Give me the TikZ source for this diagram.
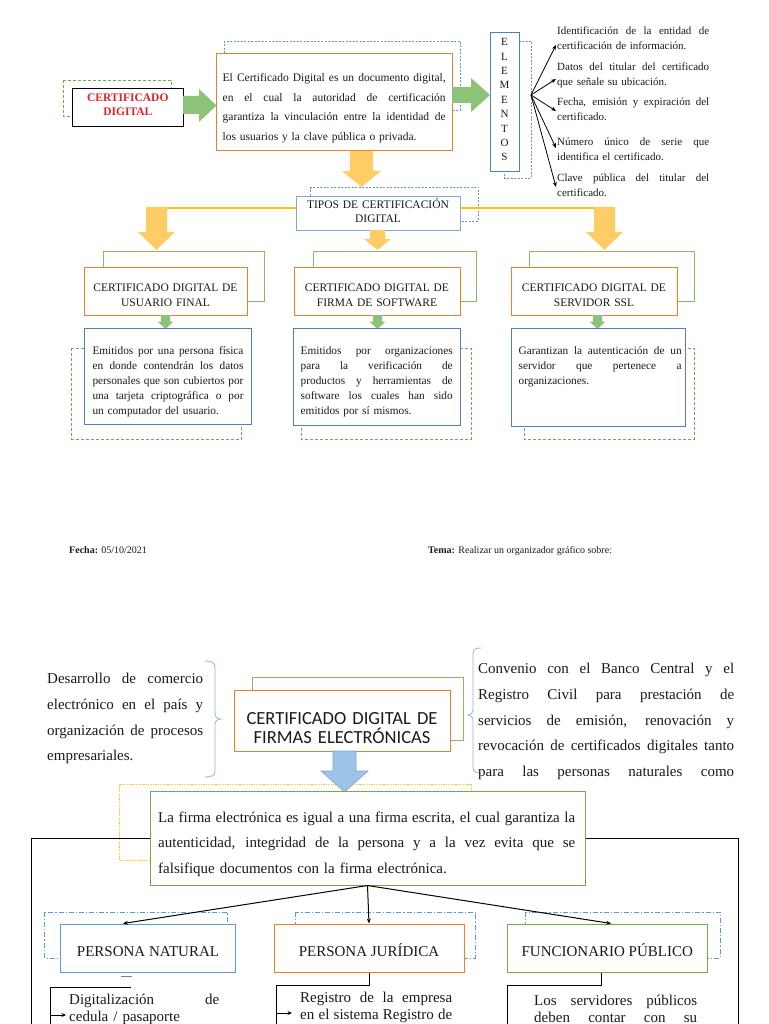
\documentclass[tikz,border=0pt]{standalone}
\usepackage{fontspec}
\setmainfont{Liberation Serif}
\newfontfamily\ttlsans{Carlito}
\usetikzlibrary{arrows.meta}
\definecolor{orB}{HTML}{ED7D31}
\definecolor{blB}{HTML}{4F81BD}
\definecolor{blL}{HTML}{5B9BD5}
\definecolor{blT}{HTML}{7FA8DA}
\definecolor{blP}{HTML}{9DC3E6}
\definecolor{blPd}{HTML}{7EA6D6}
\definecolor{grB}{HTML}{70AD47}
\definecolor{grR}{HTML}{84BD5E}
\definecolor{grA}{HTML}{8CC378}
\definecolor{yeA}{HTML}{FFCC66}
\definecolor{yeL}{HTML}{FFC000}
\definecolor{brc}{HTML}{8EB4E3}
\definecolor{redT}{HTML}{E32228}
\definecolor{txtc}{HTML}{1A1A1A}
\newcommand\JL[1]{\makebox[\hsize][s]{\spaceskip=0.25em plus 1fil minus 0.08em\relax #1}\\}
\newcommand\JLL[1]{\makebox[\hsize][s]{\spaceskip=0.25em plus 1fil minus 0.08em\relax #1}}
\begin{document}
\begin{tikzpicture}[x=1pt,y=-1pt,
  box/.style={draw, fill=white, inner sep=0pt, line width=0.9pt},
  txt/.style={inner sep=0pt, align=left, anchor=base west, text=txtc},
  ctxt/.style={inner sep=0pt, align=center, anchor=base, text=txtc},
  gdash/.style={draw=grB, line width=0.7pt, dash pattern=on 3pt off 2pt},
  bdash/.style={draw=blL, line width=0.7pt, dash pattern=on 2pt off 1.5pt},
  ydot/.style={draw=yeL, line width=0.8pt, dash pattern=on 1.2pt off 1.2pt},
  bdd/.style={draw=blL, line width=0.7pt, dash pattern=on 5pt off 2pt on 1.2pt off 2pt},
  grect/.style={draw=grR, line width=0.9pt},
  garrow/.style={fill=grA},
  yarrow/.style={fill=yeA},
  elarr/.style={-{Stealth[length=5pt,width=4pt]}, line width=0.8pt},
  blk/.style={line width=1pt},
  F115/.style={font=\fontsize{11.5}{19.5}\selectfont},
  F11/.style={font=\fontsize{11}{15}\selectfont},
  F113/.style={font=\fontsize{11.3}{15}\selectfont},
  Fcap/.style={font=\fontsize{11.5}{15}\selectfont},
  F15/.style={font=\fontsize{15}{25.8}\selectfont},
  F15g/.style={font=\fontsize{15}{25.3}\selectfont},
  F15s/.style={font=\fontsize{15}{16.5}\selectfont},
  lab/.style={box, line width=1pt, minimum height=48pt, font=\fontsize{15}{18}\selectfont, text height=16pt, text depth=0pt, text=txtc}
]
\useasboundingbox (0,0) rectangle (768,1024);
\fill[white] (0,0) rectangle (768,1024);
\begin{scope}
\clip (0,0) rectangle (768,1024);

% ---------- TOP: CERTIFICADO DIGITAL ----------
\draw[gdash] (63,80) rectangle (171,116);
\node[box, draw=black, line width=1.3pt, minimum width=111pt, minimum height=38pt] (cd) at (127.8,107.5) {};
\node[ctxt, text width=111pt, text=redT, font=\bfseries\fontsize{11.5}{13.5}\selectfont] (cdt) at (127.8,101.8) {CERTIFICADO\\DIGITAL};
\fill[garrow] (183,96) -- (199,96) -- (199,89) -- (216.5,105.5) -- (199,122) -- (199,114) -- (183,114) -- cycle;

\draw[bdash] (224,41) rectangle (460,110);
\node[box, draw=orB, minimum width=236pt, minimum height=97pt] (def) at (334,101.5) {};
\node[txt, text width=223pt, F115] (deft) at (222.5,81.6) {\JL{El Certificado Digital es un documento digital,}\JL{en el cual la autoridad de certificación}\JL{garantiza la vinculación entre la identidad de}los usuarios y la clave pública o privada.};
\fill[garrow] (452,87) -- (471,87) -- (471,78) -- (490,95) -- (471,112) -- (471,103) -- (452,103) -- cycle;

\draw[bdash] (504,41) rectangle (531,178);
\node[box, draw=blB, line width=0.8pt, minimum width=29pt, minimum height=139pt] (elem) at (504.5,101.5) {};
\node[ctxt, text width=20pt, font=\fontsize{11}{14.4}\selectfont] (elemt) at (504.5,45.8) {E\\L\\E\\M\\E\\N\\T\\O\\S};

\coordinate (eo) at (531,95);
\coordinate (ea1) at (556,45);
\coordinate (ea2) at (556,79);
\coordinate (ea3) at (556,111);
\coordinate (ea4) at (556,148);
\coordinate (ea5) at (556,187);
\foreach \i in {1,...,5} \draw[elarr] (eo) -- (ea\i);

\node[txt, text width=152pt, F11] (e1) at (557,34.5) {\JL{Identificación de la entidad de}certificación de información.};
\node[txt, text width=152pt, F11] (e2) at (557,70.5) {\JL{Datos del titular del certificado}que señale su ubicación.};
\node[txt, text width=152pt, F11] (e3) at (557,105.5) {\JL{Fecha, emisión y expiración del}certificado.};
\node[txt, text width=152pt, F11] (e4) at (557,145.5) {\JL{Número único de serie que}identifica el certificado.};
\node[txt, text width=152pt, F11] (e5) at (557,181.5) {\JL{Clave pública del titular del}certificado.};

% ---------- TIPOS ----------
\fill[yarrow] (350,151) -- (373,151) -- (373,171) -- (381,171) -- (361.5,187) -- (342,171) -- (350,171) -- cycle;
\draw[bdash] (310,187) rectangle (478,221);
\node[box, draw=blT, line width=0.8pt, minimum width=164pt, minimum height=34pt] (tipos) at (378,213) {};
\node[ctxt, text width=164pt, font=\fontsize{11.5}{14}\selectfont] (tiposT) at (378,208.8) {TIPOS DE CERTIFICACIÓN\\DIGITAL};

\coordinate (yl) at (146,208);
\coordinate (yr) at (615,208);
\draw[yeL, line width=2.2pt] (yl) -- (tipos.west |- yl);
\draw[yeL, line width=2.2pt] (tipos.east |- yr) -- (yr);
\fill[yarrow] (146,207) -- (167,207) -- (167,232) -- (175,232) -- (156.5,250) -- (138,232) -- (146,232) -- cycle;
\fill[yarrow] (370,230) -- (385,230) -- (385,239) -- (391,239) -- (377.5,250) -- (364,239) -- (370,239) -- cycle;
\fill[yarrow] (594,207) -- (615,207) -- (615,232) -- (623,232) -- (604.5,250) -- (586,232) -- (594,232) -- cycle;

% ---------- type boxes ----------
\draw[grect] (103,251.5) rectangle (264.5,301.5);
\draw[grect] (313,251.5) rectangle (476,301.5);
\draw[grect] (529,251.5) rectangle (694,301.5);
\node[box, draw=orB, minimum width=163pt, minimum height=47.5pt] (ty1) at (165.5,291.4) {};
\node[box, draw=orB, minimum width=166pt, minimum height=47.5pt] (ty2) at (377,291.4) {};
\node[box, draw=orB, minimum width=166pt, minimum height=47.5pt] (ty3) at (594,291.4) {};
\node[ctxt, text width=163pt, Fcap] (ty1t) at (165.5,291.8) {CERTIFICADO DIGITAL DE\\USUARIO FINAL};
\node[ctxt, text width=166pt, Fcap] (ty2t) at (377,291.8) {CERTIFICADO DIGITAL DE\\FIRMA DE SOFTWARE};
\node[ctxt, text width=166pt, Fcap] (ty3t) at (594,291.8) {CERTIFICADO DIGITAL DE\\SERVIDOR SSL};

\fill[garrow] (161,315) -- (170,315) -- (170,321.5) -- (173.5,321.5) -- (165.5,329) -- (157.5,321.5) -- (161,321.5) -- cycle;
\fill[garrow] (373,315) -- (382,315) -- (382,321.5) -- (385.5,321.5) -- (377.5,329) -- (369.5,321.5) -- (373,321.5) -- cycle;
\fill[garrow] (593,315) -- (602,315) -- (602,321.5) -- (605.5,321.5) -- (597.5,329) -- (589.5,321.5) -- (593,321.5) -- cycle;

% ---------- description boxes ----------
\draw[gdash] (71.7,348) rectangle (241.7,439);
\draw[gdash] (301,348) rectangle (471,439);
\draw[gdash] (524,348) rectangle (694,439);
\node[box, draw=blB, minimum width=167.5pt, minimum height=95.5pt] (d1) at (167.75,376.25) {};
\node[box, draw=blB, minimum width=167pt, minimum height=97pt] (d2) at (377,377) {};
\node[box, draw=blB, minimum width=174pt, minimum height=98pt] (d3) at (598,377.5) {};
\node[txt, text width=151pt, F113] (d1t) at (92.3,354.5) {\JL{Emitidos por una persona física}\JL{en donde contendrán los datos}\JL{personales que son cubiertos por}\JL{una tarjeta criptográfica o por}un computador del usuario.};
\node[txt, text width=152pt, F113] (d2t) at (300.5,354.5) {\JL{Emitidos por organizaciones}\JL{para la verificación de}\JL{productos y herramientas de}\JL{software los cuales han sido}emitidos por sí mismos.};
\node[txt, text width=163pt, F113] (d3t) at (518.5,354.5) {\JL{Garantizan la autenticación de un}\JL{servidor que pertenece a}organizaciones.};

% ---------- footer ----------
\node[txt, font=\fontsize{10}{12}\selectfont] (fecha) at (69,553) {\textbf{Fecha:} 05/10/2021};
\node[txt, font=\fontsize{10}{12}\selectfont] (tema) at (428,553) {\textbf{Tema:} Realizar un organizador gráfico sobre:};

% ---------- BOTTOM ----------
\node[txt, text width=156pt, F15] (lt) at (47,683.5) {\JL{Desarrollo de comercio}\JL{electrónico en el país y}\JL{organización de procesos}empresariales.};
\draw[brc, line width=0.8pt] (205,661) .. controls (211,661) and (215,662) .. (215,667) -- (215,713) .. controls (215,717) and (217,719) .. (221,719) .. controls (217,719) and (215,721) .. (215,725) -- (215,771) .. controls (215,776) and (211,777) .. (205,777);
\draw[brc, line width=0.8pt] (481,648) .. controls (476,648) and (473,649) .. (473,654) -- (473,709) .. controls (473,713) and (471,715) .. (468,715) .. controls (471,715) and (473,717) .. (473,721) -- (473,767) .. controls (473,772) and (476,773) .. (481,773);

\draw[grect] (252,677) rectangle (463,740);
\node[box, draw=orB, minimum width=216pt, minimum height=61pt] (title) at (342,720.5) {};
\node[ctxt, text width=216pt, font=\ttlsans\fontsize{18.5}{19.5}\selectfont] (titleT) at (342,724) {CERTIFICADO DIGITAL DE\\FIRMAS ELECTRÓNICAS};

\node[txt, text width=256pt, F15] (rt) at (478,673.4) {\JL{Convenio con el Banco Central y el}\JL{Registro Civil para prestación de}\JL{servicios de emisión, renovación y}\JL{revocación de certificados digitales tanto}\JLL{para las personas naturales como}};

\draw[ydot] (119,784) rectangle (471,860);
\filldraw[fill=blP, draw=blPd, line width=0.6pt] (333,751) -- (356,751) -- (356,771) -- (368,771) -- (344.5,792) -- (321,771) -- (333,771) -- cycle;
\node[box, draw=grB, line width=1pt, minimum width=435pt, minimum height=94pt] (gbox) at (367.5,838) {};
\node[txt, text width=417pt, F15g] (gt) at (158,822.5) {\JL{La firma electrónica es igual a una firma escrita, el cual garantiza la}\JL{autenticidad, integridad de la persona y a la vez evita que se}falsifique documentos con la firma electrónica.};

\coordinate (lb) at (31,1030);
\coordinate (rb) at (738,1030);
\draw[blk] (gbox.west) -| (lb);
\draw[blk] (gbox.east) -| (rb);

\draw[bdd] (44.8,912) rectangle (227.5,958);
\draw[bdd] (295,912) rectangle (475.6,958);
\draw[bdd] (525.7,912) rectangle (720,958);
\node[lab, draw=blL, minimum width=175pt] (pn) at (148,948) {PERSONA NATURAL};
\node[lab, draw=orB, minimum width=190pt] (pj) at (369,948) {PERSONA JURÍDICA};
\node[lab, draw=grB, minimum width=199.5pt] (fp) at (607.25,948) {FUNCIONARIO PÚBLICO};

\draw[elarr, line width=1pt] (gbox.south) -- ([xshift=-25pt]pn.north);
\draw[elarr, line width=1pt] (gbox.south) -- (pj.north);
\draw[elarr, line width=1pt] (gbox.south) -- ([xshift=4pt]fp.north);

\draw[gray, line width=0.8pt] (121,976) -- (132,976);
\coordinate (b1a) at (131,987);
\coordinate (b1b) at (50,1030);
\draw[blk] (b1a) -| (b1b);
\coordinate (a1s) at (50,1015);
\coordinate (a1e) at (66,1015);
\draw[blk, -{Stealth[length=4.5pt,width=4pt]}] (a1s) -- (a1e);

\coordinate (b2) at (276,1030);
\draw[blk] (pj.south) -- ++(0,13) -| (b2);
\coordinate (a2s) at (276,1013);
\coordinate (a2e) at (292,1013);
\draw[blk, -{Stealth[length=4.5pt,width=4pt]}] (a2s) -- (a2e);

\coordinate (b3) at (507.5,1030);
\draw[blk] ([xshift=-6pt]fp.south) -- ++(0,13) -| (b3);

\node[txt, text width=150pt, F15s] (s1) at (69,1004.5) {\JL{Digitalización de}cedula / pasaporte};
\node[txt, text width=152pt, F15s] (s2) at (300,1002.5) {\JL{Registro de la empresa}\JLL{en el sistema Registro de}};
\node[txt, text width=163pt, F15s] (s3) at (534,1005.5) {\JL{Los servidores públicos}\JLL{deben contar con su}};
\end{scope}
\end{tikzpicture}
\end{document}
